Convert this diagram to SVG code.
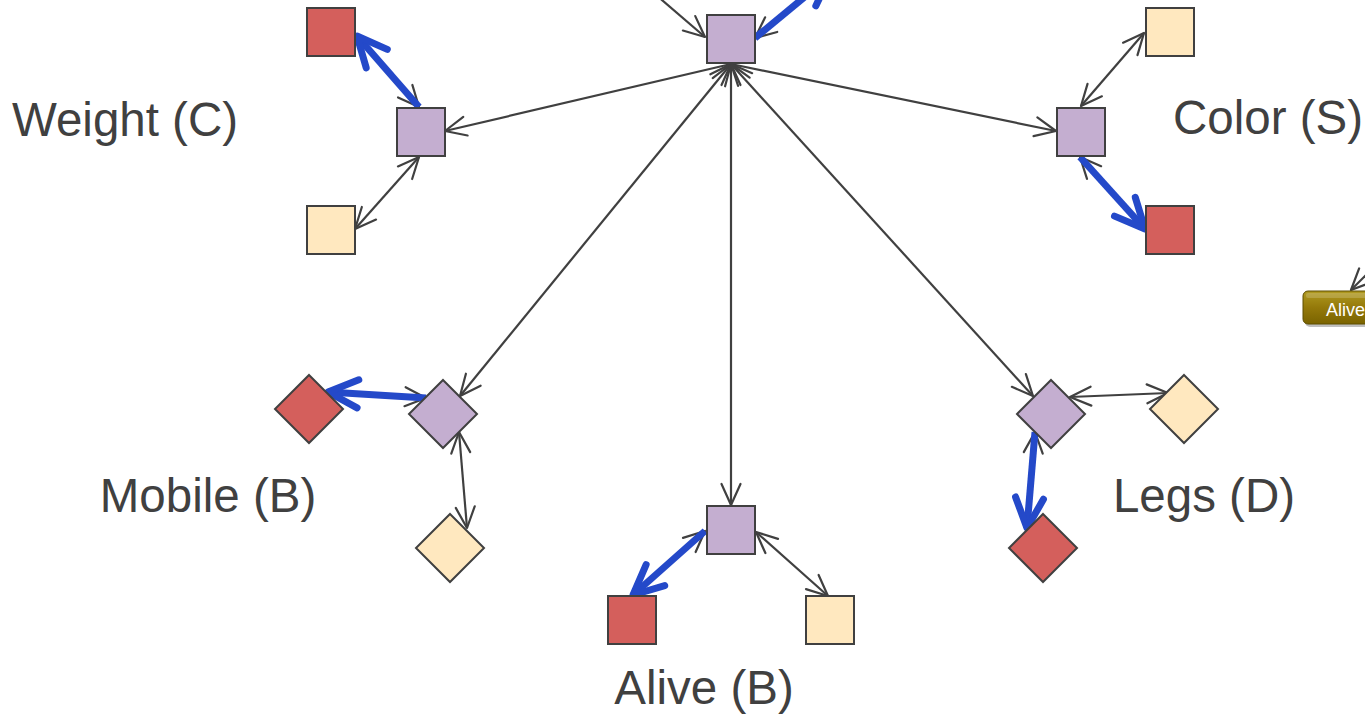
<svg xmlns="http://www.w3.org/2000/svg" width="1365" height="714" viewBox="0 0 1365 714">
<style>
.lbl{font-family:"Liberation Sans",Arial,sans-serif;font-size:47.5px;fill:#404040;text-anchor:middle}
.p{fill:#c4aed0;stroke:#404040;stroke-width:2}
.r{fill:#d45f5c;stroke:#404040;stroke-width:2}
.y{fill:#ffe8bf;stroke:#404040;stroke-width:2}
.e{fill:none;stroke:#404040;stroke-width:2.2;marker-start:url(#ah);marker-end:url(#ah)}
.eb{fill:none;stroke:#2449c9;stroke-width:7;marker-end:url(#bh)}
.btntxt{font-family:"Liberation Sans",Arial,sans-serif;font-size:18px;fill:#ffffff}
</style>
<defs>
<marker id="ah" viewBox="0 0 24 22" refX="22" refY="11" markerWidth="24" markerHeight="22" markerUnits="userSpaceOnUse" orient="auto-start-reverse" overflow="visible">
<path d="M1,1.5 L22,11 L1,20.5" fill="none" stroke="#404040" stroke-width="2.2" stroke-linecap="round" stroke-linejoin="round"/>
</marker>
<marker id="bh" viewBox="0 0 40 40" refX="34" refY="20" markerWidth="40" markerHeight="40" markerUnits="userSpaceOnUse" orient="auto" overflow="visible">
<path d="M4,6 L34,20 L4,34" fill="none" stroke="#2449c9" stroke-width="7" stroke-linecap="round" stroke-linejoin="round"/>
</marker>
<linearGradient id="gold" x1="0" y1="0" x2="0" y2="1">
<stop offset="0" stop-color="#b09a20"/>
<stop offset="0.5" stop-color="#94790a"/>
<stop offset="1" stop-color="#7a6300"/>
</linearGradient>
</defs>

<g id="connectors">
<line class="e" x1="731" y1="64" x2="445" y2="131"/>
<line class="e" x1="731" y1="64" x2="1056" y2="131"/>
<line class="e" x1="731" y1="64" x2="460" y2="396"/>
<line class="e" x1="731" y1="64" x2="731" y2="505"/>
<line class="e" x1="731" y1="64" x2="1033" y2="396"/>
<line class="e" x1="620" y1="-36" x2="705" y2="37" style="marker-start:none"/>
<line class="e" x1="755" y1="38" x2="830" y2="-24"/>
<line class="eb" x1="755" y1="38" x2="830" y2="-24"/>

<line class="e" x1="419" y1="107" x2="357" y2="36"/>
<line class="eb" x1="419" y1="107" x2="357" y2="36"/>
<line class="e" x1="419" y1="157" x2="355" y2="229"/>

<line class="e" x1="1081" y1="106" x2="1144" y2="33"/>
<line class="e" x1="1080" y1="157" x2="1145" y2="229"/>
<line class="eb" x1="1080" y1="157" x2="1145" y2="229"/>

<line class="e" x1="426" y1="398" x2="328" y2="392"/>
<line class="eb" x1="426" y1="398" x2="328" y2="392"/>
<line class="e" x1="459" y1="432" x2="467" y2="528"/>

<line class="e" x1="1070" y1="397" x2="1168" y2="393"/>
<line class="e" x1="1035" y1="432" x2="1027" y2="528"/>
<line class="eb" x1="1035" y1="432" x2="1027" y2="528"/>

<line class="e" x1="705" y1="531" x2="633" y2="595"/>
<line class="eb" x1="705" y1="531" x2="633" y2="595"/>
<line class="e" x1="756" y1="532" x2="828" y2="596"/>

<line class="e" x1="1385" y1="256" x2="1351" y2="290" style="marker-start:none"/>
</g>

<g id="hub"><rect class="p" x="707" y="15" width="48" height="48"/></g>

<g id="weight">
<rect class="p" x="397" y="108" width="48" height="48"/>
<rect class="r" x="307" y="8" width="48" height="48"/>
<rect class="y" x="307" y="206" width="48" height="48"/>
<text class="lbl" x="125" y="136">Weight (C)</text>
</g>

<g id="color">
<rect class="p" x="1057" y="108" width="48" height="48"/>
<rect class="y" x="1146" y="8" width="48" height="48"/>
<rect class="r" x="1146" y="206" width="48" height="48"/>
<text class="lbl" x="1268" y="134">Color (S)</text>
</g>

<g id="mobile">
<polygon class="p" points="443,380 477,414 443,448 409,414"/>
<polygon class="r" points="309,375 343,409 309,443 275,409"/>
<polygon class="y" points="450,514 484,548 450,582 416,548"/>
<text class="lbl" x="208" y="512">Mobile (B)</text>
</g>

<g id="legs">
<polygon class="p" points="1051,380 1085,414 1051,448 1017,414"/>
<polygon class="y" points="1184,375 1218,409 1184,443 1150,409"/>
<polygon class="r" points="1043,514 1077,548 1043,582 1009,548"/>
<text class="lbl" x="1204" y="512">Legs (D)</text>
</g>

<g id="alive">
<rect class="p" x="707" y="506" width="48" height="48"/>
<rect class="r" x="608" y="596" width="48" height="48"/>
<rect class="y" x="806" y="596" width="48" height="48"/>
<text class="lbl" x="704" y="704">Alive (B)</text>
</g>

<g id="alive-button">
<rect x="1304" y="292" width="90" height="33" rx="5" fill="#000" opacity="0.25" transform="translate(1,2)"/>
<rect x="1303" y="291" width="90" height="33" rx="5" fill="url(#gold)" stroke="#5e4e00" stroke-width="1"/>
<rect x="1306" y="293" width="84" height="5" rx="2" fill="#ffffff" opacity="0.18"/>
<text class="btntxt" x="1326" y="316">Alive</text>
</g>
</svg>
